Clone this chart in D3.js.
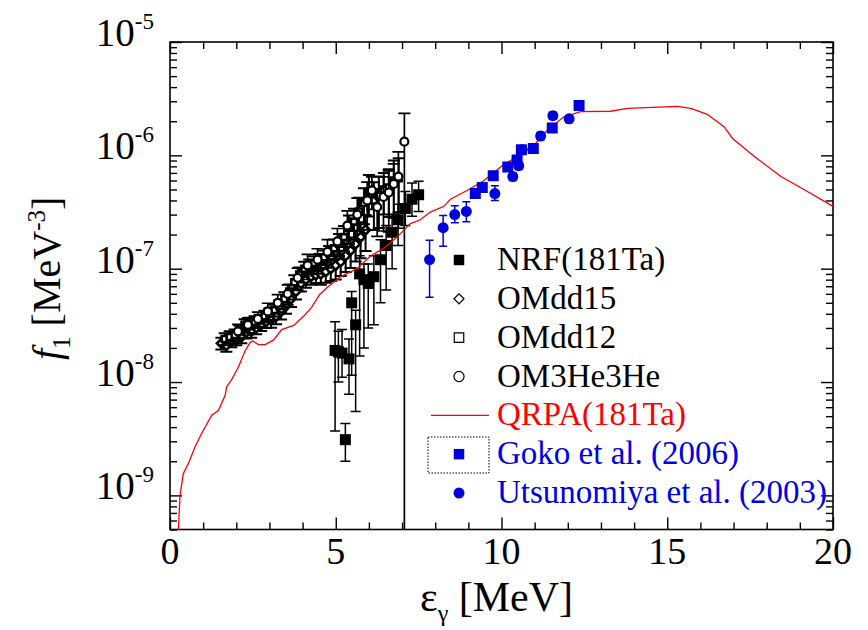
<!DOCTYPE html>
<html>
<head>
<meta charset="utf-8">
<script src="https://cdn.jsdelivr.net/npm/d3@7"></script>
<style>
  body { margin: 0; background: #fff; }
  text { font-family: "Liberation Serif", "Times New Roman", serif; }
</style>
</head>
<body>
<svg id="chart" width="868" height="630"></svg>
<script>
// ---- data ----
const xTicks = [0, 5, 10, 15, 20];
const yExponents = [-9, -8, -7, -6, -5];

// QRPA(181Ta) curve
const qrpaX = [0.22, 0.30, 0.40, 0.55, 0.76, 0.96, 1.26, 1.46, 1.66, 1.71, 1.86, 2.06, 2.27, 2.42, 2.49, 2.67, 2.87, 3.12, 3.37, 3.73, 4.03, 4.28, 4.51, 4.73, 5.14, 5.64, 6.04, 6.44, 6.85, 7.25, 7.55, 7.85, 8.26, 8.46, 8.96, 9.47, 9.97, 10.47, 10.98, 11.38, 11.88, 12.39, 13.29, 13.79, 15.31, 15.71, 16.21, 16.72, 16.97, 17.62, 18.43, 19.23, 20.0];
const qrpaY = [3e-10, 9.8e-10, 1.55e-9, 1.9e-9, 2.7e-9, 3.55e-9, 5.1e-9, 5.6e-9, 7.6e-9, 9.1e-9, 1.05e-8, 1.35e-8, 1.9e-8, 2.24e-8, 2.3e-8, 2.14e-8, 2.14e-8, 2.34e-8, 2.9e-8, 3.16e-8, 3.8e-8, 4.6e-8, 5.9e-8, 6.8e-8, 8.5e-8, 1.0e-7, 1.29e-7, 1.51e-7, 1.9e-7, 2.5e-7, 2.7e-7, 3.16e-7, 3.55e-7, 4.1e-7, 4.9e-7, 6.0e-7, 7.9e-7, 9.8e-7, 1.23e-6, 1.66e-6, 2.19e-6, 2.43e-6, 2.45e-6, 2.6e-6, 2.7e-6, 2.6e-6, 2.3e-6, 1.78e-6, 1.41e-6, 9.8e-7, 6.5e-7, 4.8e-7, 3.55e-7];

// OMdd15 (open diamonds), relative errors
const omdd15X = [1.55, 1.70, 1.85, 2.00, 2.15, 2.30, 2.45, 2.60, 2.75, 2.90, 3.05, 3.20, 3.35, 3.50, 3.65, 3.80, 3.95, 4.10, 4.25, 4.40, 4.55, 4.70, 4.85, 5.00, 5.15, 5.30, 5.45, 5.60, 5.75, 5.90];
const omdd15Y = [2.2e-8, 2.1e-8, 2.3e-8, 2.4e-8, 2.5e-8, 2.75e-8, 2.8e-8, 3.0e-8, 3.2e-8, 3.4e-8, 3.55e-8, 3.8e-8, 4.2e-8, 4.7e-8, 5.4e-8, 6.3e-8, 7.4e-8, 8.0e-8, 8.5e-8, 8.8e-8, 9.0e-8, 9.4e-8, 1.0e-7, 1.07e-7, 1.15e-7, 1.3e-7, 1.45e-7, 1.65e-7, 1.9e-7, 2.2e-7];
const omdd15Err = [0.12, 0.12, 0.12, 0.12, 0.12, 0.12, 0.12, 0.12, 0.12, 0.12, 0.15, 0.15, 0.15, 0.15, 0.15, 0.15, 0.15, 0.15, 0.15, 0.15, 0.2, 0.2, 0.22, 0.25, 0.25, 0.28, 0.3, 0.3, 0.35, 0.35];

// OMdd12 (open squares)
const omdd12X = [1.65, 1.80, 1.95, 2.10, 2.25, 2.40, 2.55, 2.70, 2.85, 3.00, 3.15, 3.30, 3.45, 3.60, 3.75, 3.90, 4.05, 4.20, 4.35, 4.50, 4.65, 4.80, 4.95, 5.10, 5.25, 5.40, 5.55, 5.70, 5.85, 6.00, 6.15, 6.30, 6.45, 6.60, 6.75, 6.90];
const omdd12Y = [2.4e-8, 2.5e-8, 2.6e-8, 2.8e-8, 3.2e-8, 3.3e-8, 3.4e-8, 3.5e-8, 3.8e-8, 4.0e-8, 4.3e-8, 4.7e-8, 5.4e-8, 6.3e-8, 7.6e-8, 8.9e-8, 1.0e-7, 1.05e-7, 1.12e-7, 1.17e-7, 1.26e-7, 1.38e-7, 1.51e-7, 1.66e-7, 1.9e-7, 2.3e-7, 2.6e-7, 3.2e-7, 3.8e-7, 4.8e-7, 4.0e-7, 4.4e-7, 5.0e-7, 5.2e-7, 6.0e-7, 6.3e-7];
const omdd12Err = [0.12, 0.12, 0.12, 0.12, 0.12, 0.12, 0.12, 0.12, 0.12, 0.12, 0.12, 0.12, 0.15, 0.15, 0.15, 0.15, 0.15, 0.15, 0.15, 0.15, 0.15, 0.15, 0.2, 0.22, 0.25, 0.28, 0.3, 0.32, 0.35, 0.4, 0.45, 0.48, 0.4, 0.45, 0.5, 0.5];

// OM3He3He (open circles), relative upper / lower errors
const om3heX = [2.05, 2.35, 2.65, 2.95, 3.25, 3.55, 3.85, 4.15, 4.45, 4.75, 5.05, 5.35, 5.65, 5.95, 6.09, 6.25, 6.44, 6.60, 6.75, 6.89, 7.07];
const om3heY = [2.8e-8, 3.2e-8, 3.6e-8, 4.2e-8, 5.0e-8, 6.0e-8, 8.3e-8, 1.07e-7, 1.2e-7, 1.41e-7, 1.74e-7, 2.4e-7, 3.0e-7, 4.0e-7, 4.9e-7, 3.5e-7, 4.3e-7, 4.7e-7, 5.6e-7, 6.5e-7, 1.32e-6];
const om3heErrHi = [0.15, 0.15, 0.15, 0.18, 0.18, 0.2, 0.22, 0.25, 0.25, 0.28, 0.3, 0.35, 0.4, 0.45, 0.32, 0.45, 0.5, 0.55, 0.5, 0.65, 0.78];
const om3heErrLo = [0.15, 0.15, 0.15, 0.18, 0.18, 0.2, 0.22, 0.25, 0.25, 0.28, 0.3, 0.35, 0.4, 0.45, 0.32, 0.45, 0.5, 0.55, 0.5, 0.65, 1.0];

// NRF(181Ta) (filled squares), absolute error limits
const nrfX = [4.98, 5.08, 5.19, 5.29, 5.40, 5.48, 5.60, 5.72, 5.85, 5.98, 6.15, 6.35, 6.52, 6.70, 6.88, 7.10, 7.30, 7.50];
const nrfY = [1.9e-8, 1.85e-8, 1.8e-8, 3.1e-9, 1.6e-8, 5.0e-8, 3.2e-8, 9.0e-8, 8.0e-8, 7.4e-8, 8.5e-8, 1.2e-7, 1.6e-7, 2.1e-7, 2.7e-7, 3.4e-7, 4.1e-7, 4.5e-7];
const nrfHi = [3.4e-8, 2.8e-8, 2.9e-8, 4.3e-9, 2.4e-8, 6.3e-8, 4.3e-8, 1.3e-7, 1.1e-7, 1.1e-7, 1.3e-7, 1.8e-7, 2.4e-7, 3.0e-7, 3.7e-7, 4.8e-7, 5.7e-7, 5.9e-7];
const nrfLo = [3.7e-9, 1.0e-8, 1.1e-8, 2.0e-9, 7.8e-9, 1.15e-8, 5.5e-9, 1.7e-8, 2.0e-8, 3.0e-8, 3.2e-8, 5.0e-8, 6.5e-8, 1.0e-7, 1.6e-7, 2.4e-7, 2.9e-7, 3.2e-7];

// Goko et al. (2006) (blue squares)
const gokoX = [9.21, 9.42, 9.75, 10.19, 10.47, 10.60, 10.96, 11.53, 12.34];
const gokoY = [4.6e-7, 5.2e-7, 6.6e-7, 7.9e-7, 9.1e-7, 1.12e-6, 1.15e-6, 1.74e-6, 2.75e-6];

// Utsunomiya et al. (2003) (blue circles)
const utsuX = [7.83, 8.24, 8.59, 8.94, 9.80, 10.34, 10.52, 10.62, 11.18, 11.55, 12.04];
const utsuY = [1.2e-7, 2.3e-7, 3.0e-7, 3.2e-7, 4.6e-7, 6.5e-7, 8.1e-7, 1.12e-6, 1.48e-6, 2.24e-6, 2.1e-6];
const utsuHi = [1.78e-7, 2.95e-7, 3.6e-7, 3.9e-7, 5.4e-7, 7.0e-7, 8.7e-7, 1.2e-6, 1.6e-6, 2.4e-6, 2.25e-6];
const utsuLo = [5.6e-8, 1.58e-7, 2.54e-7, 2.6e-7, 4.0e-7, 6.0e-7, 7.5e-7, 1.04e-6, 1.37e-6, 2.08e-6, 1.95e-6];

const legendLabels = ["NRF(181Ta)", "OMdd15", "OMdd12", "OM3He3He", "QRPA(181Ta)", "Goko et al. (2006)", "Utsunomiya et al. (2003)"];
const legendColors = ["#000", "#000", "#000", "#000", "#ff0000", "#0000e6", "#0000e6"];

// ---- layout ----
const pLeft = 170, pRight = 833, pTop = 42, pBottom = 529.5;
const blue = "#0000dd", red = "#ff0000";

const svg = d3.select("#chart");

const x = d3.scaleLinear().domain([0, 20]).range([pLeft, pRight]);
const y = d3.scaleLog().domain([5e-10, 1e-5]).range([pBottom, pTop]);
const yMin = 5e-10;

svg.append("defs").append("clipPath").attr("id", "clip")
  .append("rect").attr("x", pLeft).attr("y", pTop)
  .attr("width", pRight - pLeft).attr("height", pBottom - pTop);

// ---- axes (inward ticks on all four sides) ----
const xMinor = d3.range(0, 21).filter((v) => v % 5 !== 0);
const yMajor = yExponents.map((e) => Math.pow(10, e));
const yMinor = [];
[-10, -9, -8, -7, -6].forEach((e) => {
  for (let k = 2; k <= 9; k++) {
    const v = k * Math.pow(10, e);
    if (v >= 5e-10 && v <= 1e-5) yMinor.push(v);
  }
});

function addAxis(axis, tr) {
  svg.append("g")
    .attr("transform", tr)
    .call(axis)
    .call((g) => g.select(".domain").remove())
    .call((g) => g.selectAll("text").remove())
    .selectAll("line")
    .attr("stroke", "#000")
    .attr("stroke-width", 1.4);
}

[[xTicks, 12], [xMinor, 7]].forEach(([vals, len]) => {
  addAxis(d3.axisBottom(x).tickValues(vals).tickSizeInner(-len).tickSizeOuter(0), `translate(0,${pBottom})`);
  addAxis(d3.axisTop(x).tickValues(vals).tickSizeInner(-len).tickSizeOuter(0), `translate(0,${pTop})`);
});
[[yMajor, 12], [yMinor, 7]].forEach(([vals, len]) => {
  addAxis(d3.axisLeft(y).tickValues(vals).tickSizeInner(-len).tickSizeOuter(0), `translate(${pLeft},0)`);
  addAxis(d3.axisRight(y).tickValues(vals).tickSizeInner(-len).tickSizeOuter(0), `translate(${pRight},0)`);
});

svg.append("rect")
  .attr("x", pLeft).attr("y", pTop)
  .attr("width", pRight - pLeft).attr("height", pBottom - pTop)
  .attr("fill", "none").attr("stroke", "#000").attr("stroke-width", 1.6);

// tick labels
svg.append("g").selectAll("text")
  .data(xTicks).enter().append("text")
  .attr("x", (d) => x(d))
  .attr("y", pBottom + 34)
  .attr("text-anchor", "middle")
  .attr("font-size", 38)
  .text((d) => d);

const yl = svg.append("g").selectAll("text")
  .data(yExponents).enter().append("text")
  .attr("x", 154)
  .attr("y", (d) => y(Math.pow(10, d)) + 4)
  .attr("text-anchor", "end")
  .attr("font-size", 39);
yl.append("tspan").text("10");
yl.append("tspan").attr("dy", -17).attr("font-size", 23).text((d) => d);

// axis titles
const xt = svg.append("text").attr("x", 420).attr("y", 611).attr("font-size", 42);
xt.append("tspan").text("ε");
xt.append("tspan").attr("dy", 10).attr("font-size", 24).text("γ");
xt.append("tspan").attr("dy", -10).text(" [MeV]");

const yt = svg.append("text")
  .attr("transform", "translate(60,360) rotate(-90)")
  .attr("font-size", 40);
yt.append("tspan").attr("font-style", "italic").text("f");
yt.append("tspan").attr("dy", 10).attr("font-size", 25).text("1");
yt.append("tspan").attr("dy", -10).text(" [MeV");
yt.append("tspan").attr("dy", -15).attr("font-size", 25).text("-3");
yt.append("tspan").attr("dy", 15).text("]");

// ---- data layers ----
const plot = svg.append("g").attr("clip-path", "url(#clip)");

function errPath(px, hi, lo, cap) {
  const yh = y(hi), yl2 = y(Math.max(lo, yMin * 0.9));
  let p = `M${px},${yh}V${yl2}M${px - cap},${yh}H${px + cap}`;
  if (lo > yMin) p += `M${px - cap},${yl2}H${px + cap}`;
  return p;
}

function drawSeries(xs, ys, his, los, opt) {
  const g = plot.append("g");
  const data = xs.map((v, i) => ({ x: v, y: ys[i], hi: his[i], lo: los[i] }));
  g.selectAll("path.err").data(data).enter().append("path")
    .attr("class", "err")
    .attr("d", (d) => errPath(x(d.x), d.hi, d.lo, opt.cap))
    .attr("fill", "none")
    .attr("stroke", opt.color)
    .attr("stroke-width", opt.ew);
  g.selectAll("path.mk").data(data).enter().append("path")
    .attr("class", "mk")
    .attr("d", d3.symbol().type(opt.shape).size(opt.size))
    .attr("transform", (d) => `translate(${x(d.x)},${y(d.y)}) rotate(${opt.rot || 0})`)
    .attr("fill", opt.fill)
    .attr("stroke", opt.stroke)
    .attr("stroke-width", opt.sw);
}

const rel = (ys, r, sign) => ys.map((v, i) => v * (1 + sign * r[i]));

drawSeries(omdd15X, omdd15Y, rel(omdd15Y, omdd15Err, 1), rel(omdd15Y, omdd15Err, -1),
  { shape: d3.symbolSquare, size: 40, rot: 45, fill: "#fff", stroke: "#000", sw: 2.6, color: "#000", ew: 2, cap: 6 });
drawSeries(omdd12X, omdd12Y, rel(omdd12Y, omdd12Err, 1), rel(omdd12Y, omdd12Err, -1),
  { shape: d3.symbolSquare, size: 36, fill: "#fff", stroke: "#000", sw: 2.6, color: "#000", ew: 2, cap: 6 });
drawSeries(om3heX, om3heY, rel(om3heY, om3heErrHi, 1), rel(om3heY, om3heErrLo, -1),
  { shape: d3.symbolCircle, size: 50, fill: "#fff", stroke: "#000", sw: 2.2, color: "#000", ew: 1.7, cap: 6 });
drawSeries(nrfX, nrfY, nrfHi, nrfLo,
  { shape: d3.symbolSquare, size: 121, fill: "#000", stroke: "none", sw: 0, color: "#000", ew: 1.5, cap: 5 });

const line = d3.line().x((d, i) => x(qrpaX[i])).y((d) => y(d));
plot.append("path")
  .attr("d", line(qrpaY))
  .attr("fill", "none")
  .attr("stroke", red)
  .attr("stroke-width", 1.3);

drawSeries(utsuX, utsuY, utsuHi, utsuLo,
  { shape: d3.symbolCircle, size: 95, fill: blue, stroke: "none", sw: 0, color: blue, ew: 1.5, cap: 4 });
drawSeries(gokoX, gokoY, gokoY, gokoY,
  { shape: d3.symbolSquare, size: 121, fill: blue, stroke: "none", sw: 0, color: blue, ew: 0, cap: 0 });

// ---- legend ----
const legY = d3.scalePoint().domain(legendLabels).range([260, 493]);
const leg = svg.append("g");
const legShapes = [
  { shape: d3.symbolSquare, size: 110, fill: "#000", stroke: "none" },
  { shape: d3.symbolSquare, size: 50, rot: 45, fill: "#fff", stroke: "#000" },
  { shape: d3.symbolSquare, size: 90, fill: "#fff", stroke: "#000" },
  { shape: d3.symbolCircle, size: 80, fill: "#fff", stroke: "#000" },
  null,
  { shape: d3.symbolSquare, size: 110, fill: blue, stroke: "none" },
  { shape: d3.symbolCircle, size: 95, fill: blue, stroke: "none" }
];
legendLabels.forEach((lab, i) => {
  const cy = legY(lab);
  const s = legShapes[i];
  if (s) {
    leg.append("path")
      .attr("d", d3.symbol().type(s.shape).size(s.size))
      .attr("transform", `translate(459,${cy}) rotate(${s.rot || 0})`)
      .attr("fill", s.fill).attr("stroke", s.stroke).attr("stroke-width", 1.2);
  } else {
    leg.append("line").attr("x1", 431).attr("x2", 489).attr("y1", cy).attr("y2", cy)
      .attr("stroke", red).attr("stroke-width", 1.3);
  }
  leg.append("text")
    .attr("x", 497).attr("y", cy + 10)
    .attr("font-size", 33)
    .attr("fill", legendColors[i])
    .text(lab);
});
leg.append("rect")
  .attr("x", 428).attr("y", 437).attr("width", 61).attr("height", 36)
  .attr("fill", "none").attr("stroke", "#000").attr("stroke-width", 1)
  .attr("stroke-dasharray", "1.5,1.5");
</script>
</body>
</html>
